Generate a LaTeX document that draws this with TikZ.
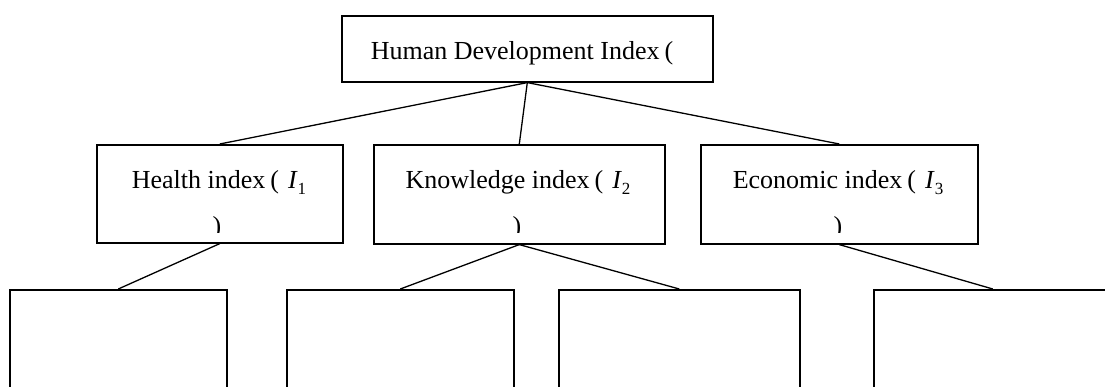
\documentclass[tikz,border=0pt]{standalone}
\usepackage{fontspec}
\setmainfont{Liberation Serif}
\newcommand{\isub}[1]{\textit{I}\raisebox{-0.2em}{\fontsize{17}{17}\selectfont #1}}
\begin{document}
\begin{tikzpicture}[x=1pt,y=-1pt,
  box/.style={draw, line width=1.6pt, inner sep=0pt, anchor=north west},
  conn/.style={line width=1.3pt},
  lbl/.style={font=\fontsize{26}{30}\selectfont, inner sep=0pt, anchor=base},
  cp/.style={font=\fontsize{26}{30}\selectfont, inner sep=0pt, anchor=base}]
\useasboundingbox (0,0) rectangle (1105,387);
\clip (0,0) rectangle (1105,387);
% top
\node[box, minimum width=371pt, minimum height=66pt] (top) at (341,15) {};
\node[lbl] (toptxt) at (522,60) {Human Development Index\hspace{5pt}(};
% middle
\node[box, minimum width=246pt, minimum height=98pt] (h) at (96,144) {};
\node[box, minimum width=291pt, minimum height=99pt] (k) at (373,144) {};
\node[box, minimum width=277pt, minimum height=99pt] (e) at (700,144) {};
\node[lbl] (ht) at (219,189) {Health index\hspace{5pt}(\hspace{9pt}\isub{1}};
\node[lbl] (kt) at (518,189) {Knowledge index\hspace{5pt}(\hspace{9pt}\isub{2}};
\node[lbl] (et) at (838,189) {Economic index\hspace{5pt}(\hspace{9pt}\isub{3}};
\begin{scope}
\clip (0,210) rectangle (1105,233);
\node[cp] (hp) at (217,235) {)};
\node[cp] (kp) at (517,235) {)};
\node[cp] (ep) at (838,235) {)};
\end{scope}
% bottom
\node[box, minimum width=217pt, minimum height=130pt] (b1) at (9,289) {};
\node[box, minimum width=227pt, minimum height=130pt] (b2) at (286,289) {};
\node[box, minimum width=241pt, minimum height=130pt] (b3) at (558,289) {};
\node[box, minimum width=238pt, minimum height=130pt] (b4) at (873,289) {};
% connectors
\draw[conn] (top.south) -- (h.north);
\draw[conn] (top.south) -- (k.north);
\draw[conn] (top.south) -- (e.north);
\draw[conn] (h.south) -- (b1.north);
\draw[conn] (k.south) -- (b2.north);
\draw[conn] (k.south) -- (b3.north);
\draw[conn] (e.south) -- (b4.north);
\end{tikzpicture}
\end{document}
